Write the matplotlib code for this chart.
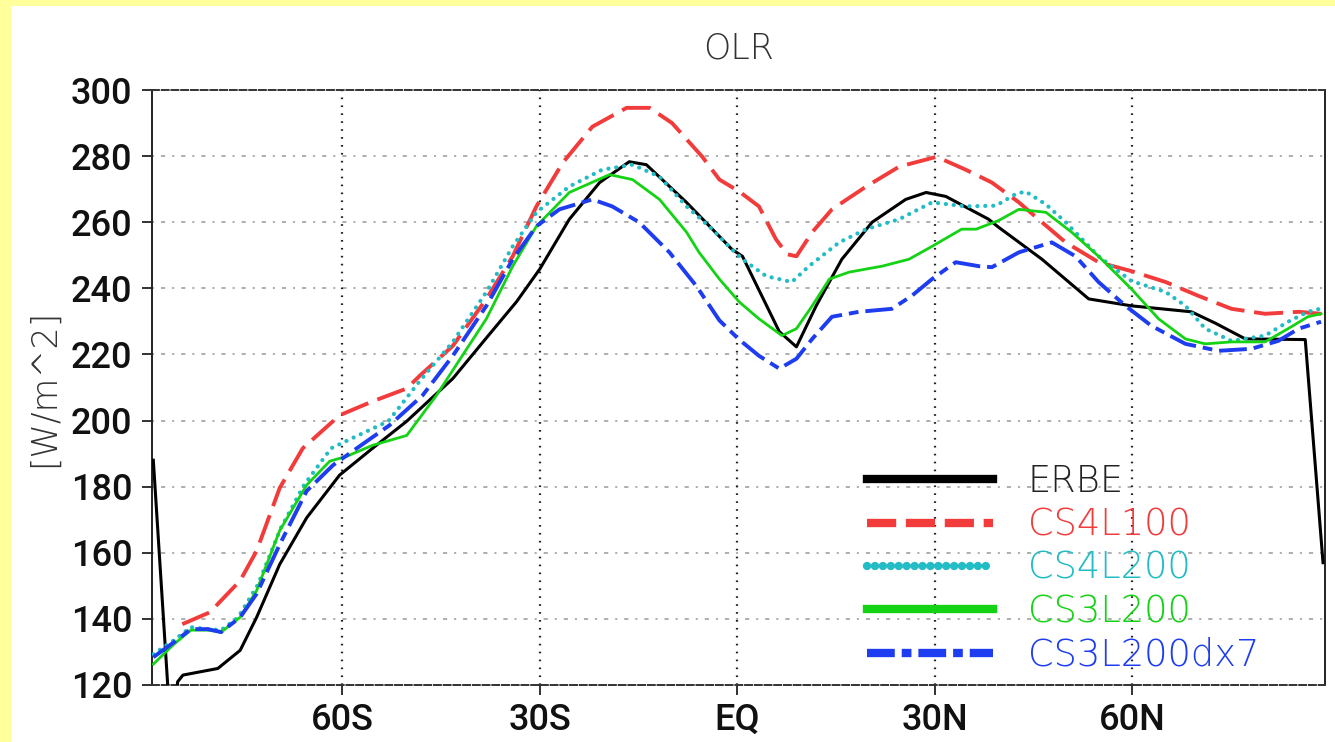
import matplotlib
matplotlib.use("Agg")
import matplotlib.pyplot as plt
from matplotlib.lines import Line2D
from matplotlib.patches import Rectangle

# latitude (deg, S negative) and OLR [W/m^2]
erbe_lat = [-88.7, -86.0, -85.0, -84.2, -78.9, -75.5, -73.0, -69.5, -65.4, -60.4,
            -55.4, -50.2, -43.2, -38.1, -33.5, -30.0, -25.5, -20.9, -16.4, -13.8,
            -7.7, -0.8, 0.8, 6.4, 9.0, 12.0, 15.9, 20.5, 25.6, 28.7,
            31.7, 38.2, 39.7, 46.3, 53.4, 59.9, 69.0, 72.6, 77.2, 86.3, 89.0]
erbe_val = [188, 104, 121, 123, 125, 130.5, 140.5, 156.5, 170.6, 183.5,
            191.6, 199.8, 212.7, 225, 236, 245.8, 260.9, 272, 278.3, 277.4,
            266, 251.8, 249.7, 226.9, 222.3, 234.7, 248.8, 260, 266.9, 269,
            267.8, 260.9, 258.5, 248.8, 236.8, 234.7, 232.9, 229.5, 224.7, 224.5, 157]

cs4l100_lat = [-84.3, -80.1, -75.5, -73.0, -69.5, -66.0, -60.4, -55.4, -50.2, -48.2,
               -43.2, -38.1, -34.1, -30.5, -26.5, -22.0, -16.8, -13.3, -9.9, -5.3,
               -2.7, 0.3, 3.3, 5.9, 7.6, 9.0, 11.4, 14.4, 19.6, 24.6,
               30.3, 34.7, 38.7, 42.8, 46.3, 49.9, 54.9, 59.9, 65.1, 70.1,
               75.1, 80.2, 85.3, 88.7]
cs4l100_val = [138.4, 142, 151.6, 160.6, 179.6, 191.6, 201.6, 205.8, 209.7, 213.6,
               222.6, 236.8, 249.7, 264.8, 278, 288.9, 294.6, 294.6, 290, 279.8,
               272.9, 269.3, 264.8, 254.8, 250.3, 249.7, 257, 263.9, 270.8, 276.8,
               279.8, 275.9, 272, 266, 260, 253.9, 247.9, 245.2, 241.9, 237.7,
               233.8, 232.3, 232.9, 232.3]

cs4l200_lat = [-88.7, -85.6, -83.0, -80.4, -78.4, -75.8, -72.8, -69.3, -65.8, -61.7,
               -57.6, -53.0, -48.2, -43.2, -38.1, -34.1, -30.5, -25.5, -20.5, -15.9,
               -11.8, -7.7, -3.8, -0.8, 0.8, 4.4, 8.3, 10.9, 15.5, 19.6,
               24.6, 29.6, 34.7, 39.3, 42.3, 43.8, 46.9, 49.9, 54.9, 59.9,
               65.1, 68.1, 71.1, 75.1, 80.2, 83.7, 86.7, 88.5]
cs4l200_val = [129.3, 133.5, 137.5, 136.9, 136.6, 140.5, 150.4, 167.6, 180.5, 191.6,
               195.5, 199.8, 212, 223.8, 238.9, 252.7, 263, 270.8, 275.9, 277.4,
               273.8, 264.8, 257.9, 251.8, 248.8, 243.7, 241.9, 246.7, 253.9, 257.9,
               260.9, 266, 264.8, 265, 268.5, 269.3, 265.4, 260, 249.7, 242.2,
               238.9, 234.7, 227.8, 224.1, 225.7, 229.9, 232.9, 233.8]

cs3l200_lat = [-88.7, -85.6, -83.0, -80.4, -78.4, -75.5, -73.0, -69.5, -65.4, -61.9,
               -59.3, -55.4, -50.2, -45.7, -38.1, -34.1, -30.5, -25.5, -19.4, -15.9,
               -11.8, -7.7, -5.8, -2.7, 0.3, 3.3, 6.8, 9.0, 11.4, 14.0,
               17.0, 22.0, 26.1, 29.6, 34.1, 36.3, 39.7, 42.8, 46.9, 50.8,
               54.9, 59.9, 64.0, 68.1, 71.1, 75.1, 80.2, 83.7, 86.7, 88.7]
cs3l200_val = [126.3, 132.3, 136.6, 136.6, 136, 140.5, 148.6, 166.7, 180.5, 187.7,
               189.2, 192.5, 195.5, 207.6, 230.8, 246.7, 258.8, 269, 274.4, 272.9,
               266.9, 257, 250.9, 242.8, 235.9, 230.8, 225.7, 227.8, 234.7, 242.8,
               244.9, 246.7, 248.8, 252.7, 257.9, 257.9, 260.5, 263.9, 263, 257,
               249.7, 239.8, 230.8, 224.7, 223.2, 223.8, 223.8, 227.8, 231.4, 232.3]

cs3l200dx7_lat = [-88.7, -85.6, -83.0, -80.4, -78.4, -75.5, -73.0, -69.5, -65.4, -61.4,
                  -57.8, -52.8, -47.8, -43.2, -38.1, -34.1, -30.5, -27.0, -22.0, -19.0,
                  -14.9, -10.3, -6.2, -2.7, 0.3, 3.3, 6.4, 9.0, 11.4, 14.4,
                  18.5, 23.5, 26.5, 29.6, 33.2, 36.7, 38.7, 42.8, 47.8, 51.4,
                  54.9, 59.0, 62.9, 68.1, 73.1, 78.1, 82.2, 85.3, 88.7]
cs3l200dx7_val = [128.4, 132.9, 136.9, 136.9, 136, 140.5, 147.6, 162.5, 178.7, 186.5,
                  191.6, 198.6, 207.6, 219.6, 234.7, 248.8, 258.8, 263.9, 266.9, 264.8,
                  260, 250.9, 240.7, 230.3, 224.5, 219.6, 215.7, 218.7, 224.7, 231.4,
                  232.9, 233.8, 237.7, 242.8, 247.9, 246.7, 246.4, 250.9, 253.9, 249.7,
                  241.9, 234.7, 228.7, 223.2, 221.1, 221.7, 224.1, 227.8, 229.9]

series_names = ["ERBE", "CS4L100", "CS4L200", "CS3L200", "CS3L200dx7"]
series_colors = ["#000000", "#f23c3c", "#22bcc4", "#14d214", "#1e3cf0"]

xticks = [-60, -30, 0, 30, 60]
xticklabels = ["60S", "30S", "EQ", "30N", "60N"]
yticks = list(range(120, 301, 20))

plt.rcParams["lines.scale_dashes"] = False
tick_font = ["Roboto", "Liberation Sans", "DejaVu Sans"]
text_font = ["DejaVu Sans"]

fig = plt.figure(figsize=(13.35, 7.42), dpi=100, facecolor="#ffff9c")
fig.patches.append(Rectangle((11 / 1335, 0), 1, 736 / 742, transform=fig.transFigure,
                             facecolor="white", edgecolor="none", zorder=-10))
ax = fig.add_axes([152 / 1335, 57 / 742, 1173 / 1335, 595 / 742])
ax.set_facecolor("white")

styles = [
    dict(ls="-", lw=2.2),
    dict(ls=(0, (21, 7)), lw=2.8),
    dict(ls=(0, (0.1, 5.6)), lw=3.0, dash_capstyle="round"),
    dict(ls="-", lw=2.0),
    dict(ls=(0, (20, 5, 7, 5)), lw=2.8),
]
data = [(erbe_lat, erbe_val), (cs4l100_lat, cs4l100_val), (cs4l200_lat, cs4l200_val),
        (cs3l200_lat, cs3l200_val), (cs3l200dx7_lat, cs3l200dx7_val)]
for (lat, val), col, st in zip(data, series_colors, styles):
    ax.plot(lat, val, color=col, zorder=3, **st)

ax.set_xlim(-88.9, 89.3)
ax.set_ylim(120, 300)

# grid lines (GrADS style)
for yv in yticks[1:-1]:
    ax.axhline(yv, color="#a8a8a8", lw=1.3, ls=(0, (1.5, 5, 3, 5)), zorder=1)
for xv in xticks:
    ax.axvline(xv, color="#222222", lw=1.6, ls=(0, (1.2, 4.5)), zorder=1)

for side in ["left", "right"]:
    ax.spines[side].set_linewidth(1.4)
    ax.spines[side].set_color("#222222")
for side in ["top", "bottom"]:
    ax.spines[side].set_linewidth(1.4)
    ax.spines[side].set_color("#333333")
    ax.spines[side].set_linestyle((0, (5, 2)))

ax.set_xticks(xticks)
ax.set_xticklabels(xticklabels)
ax.set_yticks(yticks)
ax.tick_params(axis="both", direction="out", length=7, width=1.3, color="#222222")
ax.tick_params(axis="y", pad=7)
ax.tick_params(axis="x", pad=6)
for lab in ax.get_xticklabels() + ax.get_yticklabels():
    lab.set_fontfamily(tick_font)
    lab.set_fontsize(26)
    lab.set_fontweight(500)
    lab.set_color("#111111")

ax.text(0.5, 1.069, "OLR", transform=ax.transAxes, ha="center", va="center",
        fontsize=25, family=text_font, fontweight="light", color="#333333")
ax.set_ylabel("[W/m^2]", fontsize=25, family=text_font, fontweight="light", color="#333333")
ax.yaxis.set_label_coords(-0.078, 0.5)

handles = [Line2D([], [], color=c, **dict(st, lw=6)) for c, st in zip(series_colors, styles)]
leg = ax.legend(handles, series_names, loc="upper left", bbox_to_anchor=(0.6095, 0.373),
                frameon=False, borderpad=0, borderaxespad=0, handlelength=3.42,
                handletextpad=0.95, labelspacing=0.2,
                prop=dict(family=text_font, size=26.5, weight="light"))
for txt, c in zip(leg.get_texts(), series_colors):
    txt.set_color(c if c != "#000000" else "#222222")

fig.savefig("out.png", dpi=100, facecolor=fig.get_facecolor())
